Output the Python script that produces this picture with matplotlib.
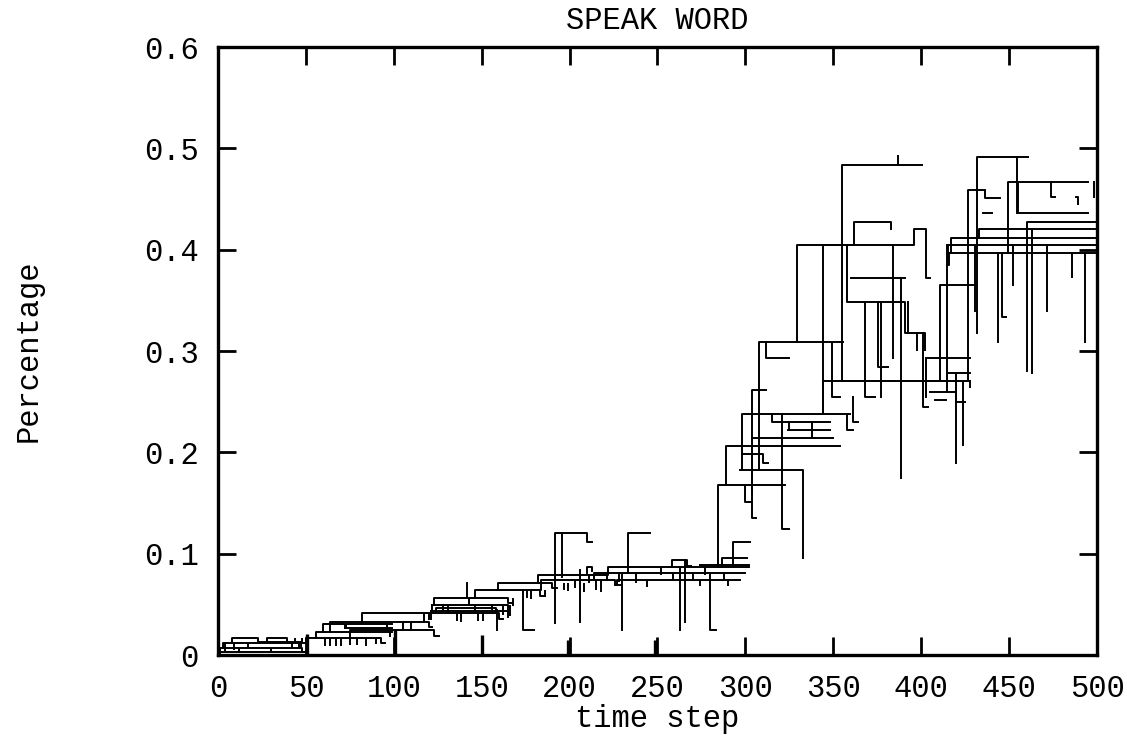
import matplotlib
matplotlib.use("Agg")
import matplotlib.pyplot as plt

# Each trace is a list of (time step, percentage) breakpoints, drawn as steps.
# early phase, t = 0..125
EARLY = [
    [(0, 0.003), (50, 0.003)],
    [(1, 0.0), (1, 0.007), (48, 0.007), (48, 0.003), (50, 0.003)],
    [(3, 0.007), (3, 0.012), (50, 0.012)],
    [(8, 0.012), (8, 0.017), (23, 0.017), (23, 0.013), (47, 0.013), (47, 0.009)],
    [(28, 0.013), (28, 0.017), (39, 0.017), (39, 0.013)],
    [(50, 0.012), (50, 0.017), (93, 0.017), (93, 0.012), (95, 0.012)],
    [(56, 0.017), (56, 0.023), (99, 0.023)],
    [(60, 0.023), (60, 0.031), (72, 0.031), (72, 0.027), (99, 0.027)],
    [(72, 0.027), (73, 0.031), (99, 0.031)],
    [(64, 0.023), (64, 0.033), (120, 0.033), (120, 0.028), (122, 0.028)],
    [(75, 0.017), (75, 0.025), (100, 0.025), (123, 0.025), (123, 0.019), (126, 0.019)],
    [(82, 0.031), (82, 0.041), (160, 0.041), (160, 0.036), (162, 0.036)],
]

# slow growth, t = 120..300
MIDDLE = [
    [(121, 0.036), (121, 0.043), (165, 0.043), (165, 0.038)],
    [(121, 0.043), (122, 0.049), (165, 0.049), (165, 0.044)],
    [(122, 0.049), (123, 0.056), (165, 0.056), (165, 0.051), (168, 0.051)],
    [(124, 0.041), (124, 0.046), (158, 0.046), (158, 0.041)],
    [(145, 0.056), (146, 0.064), (183, 0.064), (183, 0.058), (186, 0.058)],
    [(158, 0.064), (159, 0.071), (190, 0.071), (190, 0.066), (193, 0.066)],
    [(181, 0.071), (182, 0.079), (221, 0.079), (221, 0.074)],
    [(183, 0.064), (184, 0.074), (226, 0.074), (226, 0.069), (229, 0.069)],
    [(221, 0.079), (222, 0.087), (302, 0.087)],
    [(213, 0.074), (214, 0.081), (300, 0.081)],
    [(226, 0.069), (227, 0.074), (297, 0.074)],
    [(257, 0.087), (258, 0.094), (267, 0.094), (267, 0.088), (269, 0.088)],
    [(191.7, 0.032), (191.7, 0.12), (209.7, 0.12), (209.7, 0.112), (213, 0.112)],
    [(195.6, 0.077), (195.6, 0.12)],
    [(210, 0.081), (210, 0.087), (213, 0.087), (213, 0.083)],
    [(233.4, 0.081), (233.4, 0.12), (245.7, 0.12)],
    [(141.5, 0.058), (141.5, 0.071)],
    [(206, 0.084), (206, 0.033)],
    [(230, 0.079), (230, 0.025)],
    [(263, 0.087), (263, 0.025)],
    [(265.6, 0.094), (265.6, 0.033)],
    [(280, 0.081), (280, 0.025), (283, 0.025)],
    [(173.5, 0.064), (173.5, 0.025), (180, 0.025)],
    [(158.5, 0.044), (158.5, 0.025)],
]

# take-off, t = 284..365
JUMP = [
    [(274, 0.089), (302, 0.089)],
    [(284.5, 0.087), (284.5, 0.168), (322.5, 0.168)],
    [(286.6, 0.087), (286.6, 0.096), (301, 0.096)],
    [(293, 0.089), (293, 0.112), (302.6, 0.112)],
    [(289, 0.168), (289, 0.206), (354, 0.206)],
    [(298, 0.183), (298, 0.238), (359.5, 0.238)],
    [(308, 0.183), (308, 0.309), (355.5, 0.309)],
    [(312, 0.309), (312, 0.293), (325, 0.293)],
    [(304, 0.16), (304, 0.262), (312, 0.262)],
    [(320.8, 0.238), (320.8, 0.124), (325, 0.124)],
    [(297, 0.183), (333, 0.183), (333, 0.096)],
    [(298, 0.198), (310, 0.198), (310, 0.19), (313, 0.19)],
    [(304, 0.214), (350, 0.214)],
    [(324, 0.222), (348, 0.222)],
    [(315, 0.238), (315, 0.23), (348, 0.23)],
    [(300, 0.168), (300, 0.151), (303, 0.151)],
    [(303.5, 0.19), (303.5, 0.135), (306, 0.135)],
    [(325, 0.23), (325, 0.222)],
    [(337.7, 0.23), (337.7, 0.214), (340, 0.214)],
    [(349, 0.308), (349, 0.255), (354, 0.255)],
    [(358, 0.238), (358, 0.222), (361, 0.222)],
    [(361, 0.255), (361, 0.23), (364, 0.23)],
]

# saturation, t = 329..500
LATE = [
    [(355, 0.27), (355, 0.484), (400.5, 0.484)],
    [(387, 0.484), (387, 0.492)],
    [(355, 0.27), (428, 0.27)],
    [(344.3, 0.239), (344.3, 0.27), (428, 0.27), (428, 0.265)],
    [(329.4, 0.309), (329.4, 0.405), (395, 0.405)],
    [(344.3, 0.239), (344.3, 0.405), (360, 0.405)],
    [(362, 0.405), (362, 0.427), (383, 0.427), (383, 0.42)],
    [(358, 0.405), (358, 0.348), (391, 0.348), (391, 0.318), (402, 0.318), (402, 0.301)],
    [(360, 0.372), (391, 0.372)],
    [(395, 0.405), (396, 0.42), (402, 0.42), (403, 0.372), (405, 0.372)],
    [(368, 0.348), (368, 0.255), (374, 0.255)],
    [(375.5, 0.348), (375.5, 0.284), (381, 0.284)],
    [(377, 0.348), (377, 0.255)],
    [(384, 0.405), (384, 0.293)],
    [(388.5, 0.372), (388.5, 0.175)],
    [(392.5, 0.348), (392.5, 0.318)],
    [(397.6, 0.318), (397.6, 0.301)],
    [(401, 0.318), (401, 0.245), (404, 0.245)],
    [(403, 0.293), (403, 0.255)],
    [(404, 0.293), (428, 0.293)],
    [(410.7, 0.27), (410.7, 0.365), (430.6, 0.365)],
    [(414.7, 0.405), (414.7, 0.26)],
    [(420, 0.278), (420, 0.19)],
    [(416, 0.278), (428, 0.278)],
    [(424, 0.27), (424, 0.207)],
    [(405, 0.26), (420, 0.26), (420, 0.25), (425, 0.25)],
    [(408, 0.252), (414, 0.252)],
    [(426.6, 0.27), (426.6, 0.459), (435, 0.459)],
    [(430.6, 0.405), (430.6, 0.34)],
    [(432, 0.318), (432, 0.491), (461, 0.491)],
    [(443.7, 0.397), (443.7, 0.309)],
    [(446, 0.397), (446, 0.334), (448, 0.334)],
    [(449.4, 0.397), (449.4, 0.467), (495, 0.467)],
    [(452, 0.405), (452, 0.365)],
    [(454.5, 0.491), (454.5, 0.436)],
    [(455, 0.467), (455, 0.436), (495, 0.436)],
    [(460, 0.28), (460, 0.427), (500, 0.427)],
    [(463, 0.42), (463, 0.278)],
    [(471.6, 0.405), (471.6, 0.34)],
    [(486, 0.397), (486, 0.373)],
    [(493, 0.397), (493, 0.309)],
    [(432, 0.412), (433, 0.42), (500, 0.42)],
    [(416, 0.397), (417, 0.412), (500, 0.412)],
    [(415, 0.39), (415, 0.405), (500, 0.405)],
    [(415, 0.385), (416, 0.397), (500, 0.397)],
    [(435, 0.436), (440, 0.436)],
    [(436, 0.459), (436, 0.451), (445, 0.451)],
    [(473, 0.467), (474, 0.452), (476, 0.452)],
    [(488, 0.452), (489, 0.445)],
    [(498, 0.467), (498, 0.452)],
]

# short drops hanging off the plateaus: time, top, bottom
DROP_T = [4, 9, 12, 17, 30, 42, 44, 46, 48,
          61, 64, 67, 70, 75, 79, 84, 90, 73, 96, 98,
          105, 110, 117, 120, 136, 138, 148, 151, 128, 131, 143, 146, 156, 162, 166,
          168, 176, 178, 186, 197, 199, 203, 208, 211, 215, 218, 228, 238, 244,
          252, 259, 270, 274, 277, 288, 290]
DROP_TOP = [0.012, 0.012, 0.007, 0.012, 0.007, 0.012, 0.017, 0.012, 0.017,
            0.017, 0.017, 0.017, 0.017, 0.017, 0.017, 0.017, 0.017, 0.031, 0.031, 0.023,
            0.033, 0.033, 0.041, 0.041, 0.041, 0.041, 0.041, 0.041, 0.049, 0.049, 0.056,
            0.049, 0.049, 0.049, 0.049,
            0.056, 0.064, 0.064, 0.064, 0.071, 0.071, 0.074, 0.071, 0.079, 0.074, 0.074,
            0.081, 0.081, 0.074, 0.087, 0.081, 0.081, 0.074, 0.087, 0.081, 0.074]
DROP_BOT = [0.004, 0.005, 0.002, 0.007, 0.003, 0.008, 0.012, 0.007, 0.012,
            0.009, 0.009, 0.009, 0.009, 0.010, 0.010, 0.009, 0.011, 0.026, 0.025, 0.018,
            0.025, 0.025, 0.033, 0.035, 0.034, 0.033, 0.034, 0.034, 0.041, 0.041, 0.048,
            0.041, 0.041, 0.040, 0.039,
            0.048, 0.056, 0.055, 0.057, 0.064, 0.063, 0.066, 0.062, 0.071, 0.064, 0.062,
            0.072, 0.071, 0.067, 0.079, 0.074, 0.073, 0.068, 0.079, 0.074, 0.068]

# stems rising from the baseline every 50 steps
STEM_T = [50.4, 100.7, 150, 199, 248.6]
STEM_TOP = [0.021, 0.025, 0.020, 0.015, 0.015]

XTICKS = [0, 50, 100, 150, 200, 250, 300, 350, 400, 450, 500]
XTICK_LABELS = ["0", "50", "100", "150", "200", "250", "300", "350", "400", "450", "500"]
YTICKS = [0, 0.1, 0.2, 0.3, 0.4, 0.5, 0.6]
YTICK_LABELS = ["0", "0.1", "0.2", "0.3", "0.4", "0.5", "0.6"]

plt.rcParams["font.family"] = ["Liberation Mono", "DejaVu Sans Mono"]

fig = plt.figure(figsize=(11.27, 7.36), dpi=100)
ax = fig.add_axes([0.1934, 0.1100, 0.7800, 0.8261])

for group in (EARLY, MIDDLE, JUMP, LATE):
    for trace in group:
        t = [p[0] for p in trace]
        y = [p[1] for p in trace]
        ax.plot(t, y, drawstyle="steps-post", color="black", linewidth=1.4)

ax.vlines(DROP_T, DROP_BOT, DROP_TOP, color="black", linewidth=1.4)
ax.vlines(STEM_T, 0, STEM_TOP, color="black", linewidth=2.4)

ax.set_xlim(0, 500)
ax.set_ylim(0, 0.6)
ax.set_xticks(XTICKS)
ax.set_xticklabels(XTICK_LABELS)
ax.set_yticks(YTICKS)
ax.set_yticklabels(YTICK_LABELS)
ax.tick_params(direction="in", top=True, right=True, length=13, width=2,
               labelsize=22)
ax.tick_params(axis="x", pad=14)
ax.tick_params(axis="y", pad=14)
for spine in ax.spines.values():
    spine.set_linewidth(2.4)

ax.set_title("SPEAK WORD", fontsize=22, pad=13)
ax.set_xlabel("time step", fontsize=22, labelpad=0)
ax.set_ylabel("Percentage", fontsize=22, labelpad=72)

fig.savefig("out.png", dpi=100)
